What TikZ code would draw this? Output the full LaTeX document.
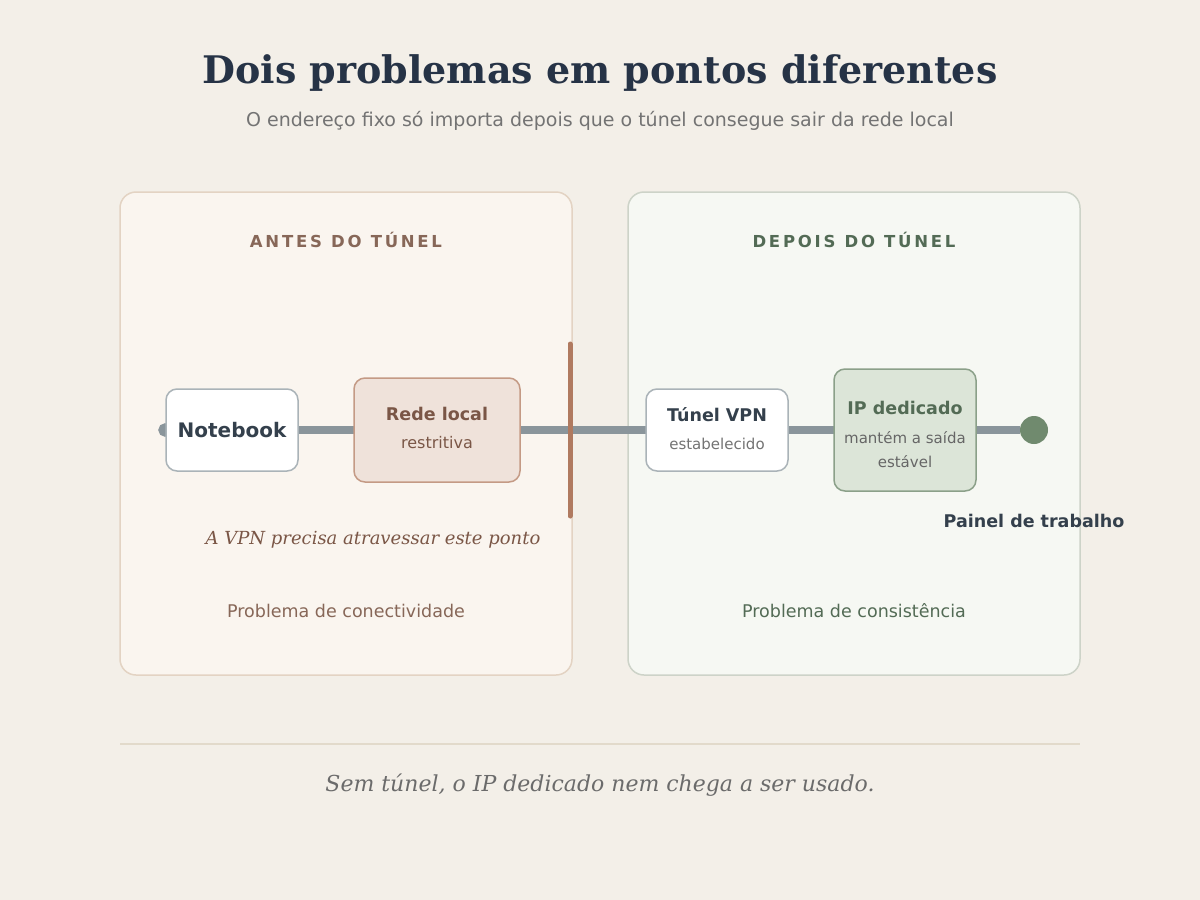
\documentclass[tikz,border=0pt]{standalone}
\usepackage{fontspec}
\setmainfont{DejaVu Serif}
\setsansfont{DejaVu Sans}
\definecolor{bg}{HTML}{F3EFE8}
\definecolor{wire}{HTML}{8A959B}
\definecolor{navy}{HTML}{263346}
\definecolor{dark}{HTML}{34404C}
\definecolor{brown}{HTML}{7A5646}
\definecolor{green}{HTML}{536B55}
\definecolor{lpb}{HTML}{E3D3C3}
\definecolor{lpf}{HTML}{FAF5EF}
\definecolor{rpb}{HTML}{CDD3C8}
\definecolor{rpf}{HTML}{F6F8F3}
\definecolor{nbb}{HTML}{AAB3B8}
\definecolor{rlb}{HTML}{C49A85}
\definecolor{rlf}{HTML}{EFE2DA}
\definecolor{ipb}{HTML}{8BA089}
\definecolor{ipf}{HTML}{DCE5D8}
\definecolor{bar}{HTML}{B07A60}
\definecolor{dot}{HTML}{708A6E}
\definecolor{rule}{HTML}{E2DACB}
\begin{document}
\begin{tikzpicture}[x=1pt,y=-1pt,
  box/.style={draw,rounded corners=11pt,line width=1.5pt,inner sep=0pt},
  panel/.style={draw,rounded corners=16pt,line width=1.5pt},
  wire/.style={line width=8pt,draw=wire},
  hd/.style={font=\sffamily\bfseries\fontsize{17.5}{20}\selectfont},
  sm/.style={font=\sffamily\fontsize{15}{18}\selectfont}]
\useasboundingbox (0,0) rectangle (1200,900);
\fill[bg] (0,0) rectangle (1200,900);
\node[font=\bfseries\fontsize{38}{42}\selectfont,text=navy] (title) at (600,73) {Dois problemas em pontos diferentes};
\node[font=\sffamily\fontsize{19}{21}\selectfont,text=black!55] (sub) at (600,121) {O endereço fixo só importa depois que o túnel consegue sair da rede local};
\draw[panel,draw=lpb,fill=lpf] (120,192) rectangle (572,675);
\draw[panel,draw=rpb,fill=rpf] (628,192) rectangle (1080,675);
\node[font=\sffamily\bfseries\fontsize{16.5}{18}\selectfont,text=brown!90] (lh) at (346,240) {A\,N\,T\,E\,S\;\;D\,O\;\;T\,Ú\,N\,E\,L};
\node[font=\sffamily\bfseries\fontsize{16.5}{18}\selectfont,text=green] (rh) at (854,240) {D\,E\,P\,O\,I\,S\;\;D\,O\;\;T\,Ú\,N\,E\,L};
\coordinate (start) at (165,430);
\node[circle,fill=dot,minimum size=28pt,inner sep=0pt] (panel) at (1034,430) {};
\fill[wire] (start) circle (2.5pt);
\draw[wire] (start) -- (panel);
\node[box,draw=nbb,fill=white,minimum width=132pt,minimum height=82pt,text=dark,font=\sffamily\bfseries\fontsize{20}{22}\selectfont] (nb) at (232,430) {Notebook};
\node[box,draw=rlb,fill=rlf,minimum width=166pt,minimum height=104pt] (rl) at (437,430) {};
\node[hd,text=brown] (rlt) at (437,414) {Rede local};
\node[sm,text=brown,font=\sffamily\fontsize{16}{18}\selectfont] (rls) at (437,443) {restritiva};
\node[box,draw=nbb,fill=white,minimum width=142pt,minimum height=82pt] (vpn) at (717,430) {};
\node[hd,text=dark] (vpnt) at (717,415) {Túnel VPN};
\node[sm,text=black!55] (vpns) at (717,444) {estabelecido};
\node[box,draw=ipb,fill=ipf,minimum width=142pt,minimum height=122pt] (ip) at (905,430) {};
\node[hd,text=green] (ipt) at (905,408) {IP dedicado};
\node[sm,text=black!60] (ips1) at (905,438) {mantém a saída};
\node[sm,text=black!60] (ips2) at (905,462) {estável};
\coordinate (bt) at (570,344);
\coordinate (bb) at (570,516);
\draw[bar,line width=5pt,line cap=round] (bt) -- (bb);
\node[font=\sffamily\bfseries\fontsize{17.5}{20}\selectfont,text=dark] (pl) at (1034,521) {Painel de trabalho};
\node[font=\itshape\fontsize{18}{20}\selectfont,text=brown] (note) at (373,540) {A VPN precisa atravessar este ponto};
\node[font=\sffamily\fontsize{17.5}{20}\selectfont,text=brown!90] (lp) at (346,611) {Problema de conectividade};
\node[font=\sffamily\fontsize{17.5}{20}\selectfont,text=green] (rp) at (854,611) {Problema de consistência};
\coordinate (r1) at (120,744);
\coordinate (r2) at (1080,744);
\draw[rule,line width=1.5pt] (r1) -- (r2);
\node[font=\itshape\fontsize{22}{24}\selectfont,text=black!58] (foot) at (600,785) {Sem túnel, o IP dedicado nem chega a ser usado.};
\end{tikzpicture}
\end{document}
